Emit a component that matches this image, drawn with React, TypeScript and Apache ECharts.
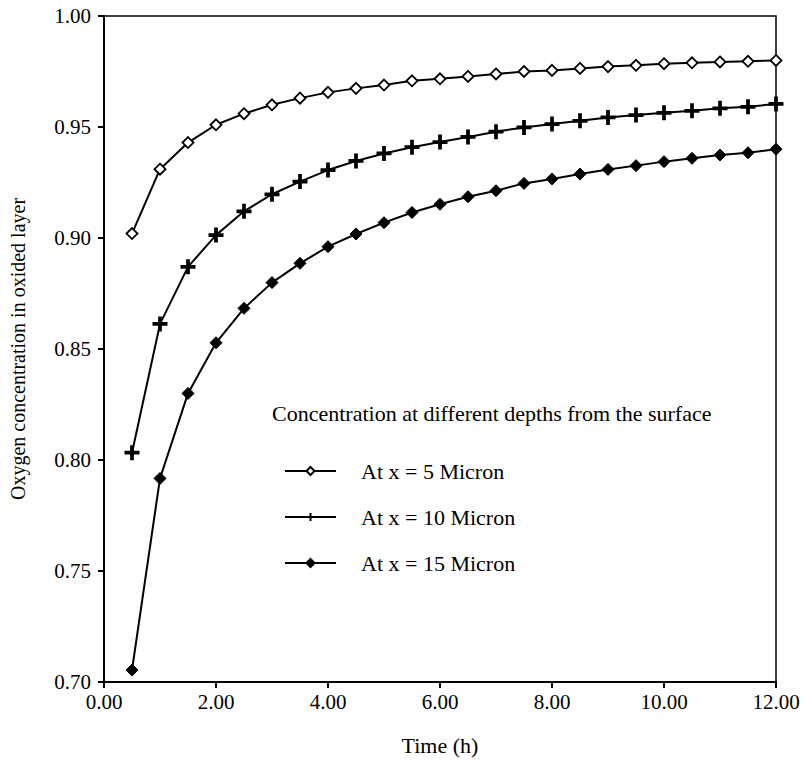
import React, { useEffect, useRef } from "react";
import * as echarts from "echarts";

const times = [0.5, 1, 1.5, 2, 2.5, 3, 3.5, 4, 4.5, 5, 5.5, 6, 6.5, 7, 7.5, 8, 8.5, 9, 9.5, 10, 10.5, 11, 11.5, 12];
const depth5 = [0.902, 0.931, 0.943, 0.951, 0.956, 0.960, 0.963, 0.9656, 0.9674, 0.9689, 0.9708, 0.9717, 0.9728, 0.9739, 0.975, 0.9755, 0.9764, 0.9772, 0.9778, 0.9785, 0.9789, 0.9793, 0.9796, 0.980];
const depth10 = [0.8033, 0.8613, 0.887, 0.9013, 0.912, 0.9197, 0.9254, 0.9306, 0.9347, 0.9381, 0.9409, 0.9432, 0.9455, 0.9479, 0.9498, 0.9513, 0.9528, 0.9543, 0.9554, 0.9564, 0.9573, 0.9584, 0.9591, 0.9604];
const depth15 = [0.7054, 0.7917, 0.830, 0.8528, 0.8683, 0.8799, 0.8886, 0.8961, 0.9018, 0.9069, 0.9115, 0.9152, 0.9186, 0.9213, 0.9246, 0.9266, 0.9288, 0.9309, 0.9326, 0.9344, 0.9359, 0.9374, 0.9384, 0.940];
const seriesNames = ["At x = 5 Micron", "At x = 10 Micron", "At x = 15 Micron"];
const legendTitle = "Concentration at different depths from the surface";
const xAxisTitle = "Time (h)";
const yAxisTitle = "Oxygen concentration in oxided layer";

const FONT = "'Liberation Serif', 'Times New Roman', serif";
const PLUS = "path://M3,0H5V3H8V5H5V8H3V5H0V3H3Z";

export default function App() {
  const ref = useRef<HTMLDivElement>(null);
  useEffect(() => {
    if (!ref.current) return;
    const chart = echarts.init(ref.current, null, { renderer: "svg" });
    const pts = (vals: number[]) => times.map((t, i) => [t, vals[i]]);
    const base = {
      type: "line",
      lineStyle: { color: "#000", width: 2 },
      emphasis: { disabled: true },
    };
    chart.setOption({
      animation: false,
      backgroundColor: "#fff",
      textStyle: { fontFamily: FONT, color: "#000" },
      grid: {
        left: 103, right: 27, top: 16, bottom: 81,
        show: true, borderColor: "#000", borderWidth: 1.5, backgroundColor: "transparent",
      },
      xAxis: {
        type: "value", min: 0, max: 12, interval: 2,
        name: xAxisTitle, nameLocation: "middle", nameGap: 52,
        nameTextStyle: { fontFamily: FONT, fontSize: 22, color: "#000" },
        axisLine: { show: true, lineStyle: { color: "#000", width: 2 } },
        axisTick: { show: true, inside: false, length: 6, lineStyle: { color: "#000", width: 2 } },
        axisLabel: { fontFamily: FONT, fontSize: 21, color: "#000", margin: 9, formatter: (v: number) => v.toFixed(2) },
        splitLine: { show: false },
      },
      yAxis: {
        type: "value", min: 0.7, max: 1.0, interval: 0.05,
        name: yAxisTitle, nameLocation: "middle", nameGap: 76, nameRotate: 90,
        nameTextStyle: { fontFamily: FONT, fontSize: 20, color: "#000" },
        axisLine: { show: true, lineStyle: { color: "#000", width: 2 } },
        axisTick: { show: true, inside: false, length: 6, lineStyle: { color: "#000", width: 2 } },
        axisLabel: { fontFamily: FONT, fontSize: 21, color: "#000", margin: 13, formatter: (v: number) => v.toFixed(2) },
        splitLine: { show: false },
      },
      legend: {
        orient: "vertical", left: 279, top: 455,
        itemWidth: 51, itemHeight: 10, itemGap: 24,
        textStyle: { fontFamily: FONT, fontSize: 22, color: "#000", padding: [0, 0, 0, 20] },
        data: seriesNames,
        selectedMode: false,
      },
      graphic: [
        {
          type: "text", left: 272, top: 402,
          style: { text: legendTitle, fontFamily: FONT, fontSize: 22, fill: "#000" },
        },
      ],
      series: [
        {
          ...base, name: seriesNames[0], data: pts(depth5),
          symbol: "diamond", symbolSize: 11,
          itemStyle: { color: "#fff", borderColor: "#000", borderWidth: 1.8 },
        },
        {
          ...base, name: seriesNames[1], data: pts(depth10),
          symbol: PLUS, symbolSize: 15,
          itemStyle: { color: "#000", borderColor: "#000", borderWidth: 0 },
        },
        {
          ...base, name: seriesNames[2], data: pts(depth15),
          symbol: "diamond", symbolSize: 12,
          itemStyle: { color: "#000", borderColor: "#000", borderWidth: 1 },
        },
      ],
    });
    return () => chart.dispose();
  }, []);
  return <div ref={ref} style={{ position: "fixed", left: 0, top: 0, width: 803, height: 763 }} />;
}
